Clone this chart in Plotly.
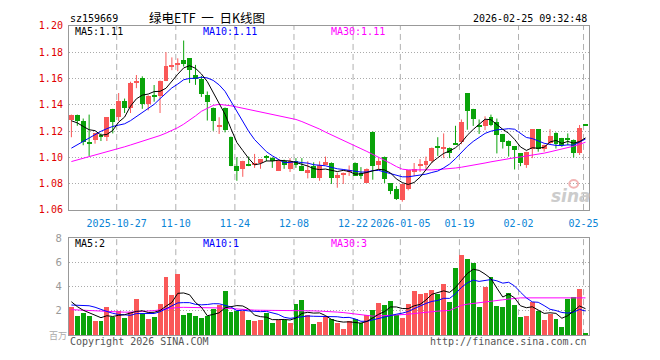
import plotly.graph_objects as go

# ---------------- data ----------------
opens = [1.1288,1.1325,1.1276,1.1113,1.1136,1.1170,1.1158,1.1369,1.1305,1.1428,
         1.1379,1.1565,1.1602,1.1410,1.1470,1.1467,1.1584,1.1690,1.1705,1.1739,
         1.1753,1.1630,1.1594,1.1472,1.1379,1.1235,1.1379,1.1158,1.0938,1.0913,
         1.0947,1.0940,1.0962,1.1001,1.0999,1.0896,1.0970,1.0913,1.0970,1.0938,
         1.0879,1.0938,1.0842,1.0945,1.0962,1.0847,1.0867,1.0889,1.0962,1.0884,
         1.0805,1.1197,1.0945,1.1006,1.0805,1.0761,1.0676,1.0761,1.0889,1.0942,
         1.0945,1.0974,1.1082,1.1072,1.1075,1.1106,1.1116,1.1489,1.1369,1.1241,
         1.1239,1.1305,1.1271,1.1178,1.1129,1.1085,1.1031,1.0945,1.1067,1.1214,
         1.1067,1.1112,1.1190,1.1148,1.1141,1.1136,1.1031,1.1246]
highs = [1.1325,1.1325,1.1295,1.1325,1.1185,1.1182,1.1305,1.1369,1.1489,1.1447,
         1.1575,1.1626,1.1616,1.1472,1.1550,1.1584,1.1800,1.1760,1.1753,1.1888,
         1.1753,1.1703,1.1619,1.1501,1.1379,1.1305,1.1379,1.1158,1.1001,1.0974,
         1.1006,1.1026,1.0987,1.1018,1.1001,1.0982,1.0982,1.0994,1.0994,1.0994,
         1.0970,1.0962,1.0970,1.1006,1.0962,1.0884,1.0884,1.0938,1.0962,1.0926,
         1.0916,1.1197,1.0994,1.1006,1.0805,1.0781,1.0798,1.0903,1.0957,1.0987,
         1.1006,1.1075,1.1153,1.1182,1.1075,1.1240,1.1288,1.1489,1.1369,1.1288,
         1.1312,1.1325,1.1295,1.1178,1.1129,1.1085,1.1031,1.1043,1.1214,1.1214,
         1.1097,1.1214,1.1190,1.1148,1.1182,1.1136,1.1246,1.1246]
lows = [1.1153,1.1240,1.1092,1.1011,1.1104,1.1124,1.1124,1.1182,1.1276,1.1337,
        1.1337,1.1526,1.1369,1.1357,1.1423,1.1337,1.1580,1.1663,1.1655,1.1690,
        1.1565,1.1551,1.1459,1.1280,1.1202,1.1178,1.1190,1.0933,1.0822,1.0852,
        1.0933,1.0920,1.0913,1.0970,1.0920,1.0896,1.0913,1.0889,1.0920,1.0896,
        1.0840,1.0842,1.0822,1.0940,1.0798,1.0769,1.0798,1.0859,1.0859,1.0835,
        1.0805,1.0830,1.0908,1.0805,1.0720,1.0676,1.0663,1.0749,1.0859,1.0889,
        1.0913,1.0957,1.1011,1.0994,1.0994,1.1097,1.1100,1.1210,1.1239,1.1178,
        1.1207,1.1237,1.1030,1.1067,1.1006,1.0908,1.0933,1.0920,1.0994,1.1043,
        1.1043,1.1100,1.1067,1.1080,1.1092,1.0999,1.1018,1.1243]
closes = [1.1325,1.1280,1.1116,1.1110,1.1185,1.1153,1.1305,1.1270,1.1428,1.1374,
          1.1570,1.1582,1.1410,1.1469,1.1467,1.1584,1.1695,1.1700,1.1712,1.1709,
          1.1668,1.1595,1.1484,1.1423,1.1280,1.1240,1.1210,1.0938,1.0896,1.0974,
          1.0943,1.0962,1.0987,1.0999,1.0970,1.0970,1.0945,1.0977,1.0945,1.0896,
          1.0908,1.0842,1.0945,1.0965,1.0842,1.0867,1.0884,1.0908,1.0859,1.0859,
          1.0916,1.0938,1.0974,1.0835,1.0749,1.0683,1.0798,1.0903,1.0913,1.0947,
          1.0974,1.1075,1.1075,1.1078,1.1036,1.1100,1.1271,1.1357,1.1295,1.1237,
          1.1288,1.1251,1.1173,1.1116,1.1085,1.1060,1.0962,1.1043,1.1214,1.1067,
          1.1097,1.1165,1.1104,1.1099,1.1139,1.1031,1.1227,1.1243]
volumes = [2.29,1.55,1.79,1.55,1.15,1.15,2.35,1.49,2.03,1.39,
           1.87,2.99,1.76,1.31,1.49,2.59,4.75,3.33,5.07,1.63,
           1.84,1.57,1.39,1.57,2.16,2.51,3.63,1.87,2.00,2.00,
           1.23,1.15,1.23,1.79,0.99,1.23,1.23,0.99,2.59,2.91,
           1.68,0.91,1.07,1.49,1.33,0.96,0.53,1.17,1.33,0.96,
           1.65,2.05,2.61,2.45,2.85,1.65,1.41,2.53,3.65,3.41,
           3.49,3.73,3.41,4.21,2.77,5.49,6.61,6.29,5.97,2.29,
           3.97,4.77,2.37,2.29,3.49,2.45,1.49,1.57,2.69,1.97,
           1.25,1.73,1.33,0.69,3.01,3.17,3.81,0.21]

ma5 = [1.1278,1.1262,1.1235,1.1210,1.1203,1.1169,1.1174,1.1205,1.1268,1.1306,
       1.1389,1.1445,1.1473,1.1481,1.1500,1.1502,1.1525,1.1583,1.1632,1.1680,
       1.1697,1.1677,1.1634,1.1576,1.1490,1.1404,1.1327,1.1218,1.1113,1.1052,
       1.0992,1.0943,1.0952,1.0973,1.0972,1.0978,1.0974,1.0972,1.0961,1.0947,
       1.0934,1.0914,1.0907,1.0911,1.0900,1.0892,1.0901,1.0893,1.0872,1.0875,
       1.0885,1.0896,1.0909,1.0904,1.0882,1.0836,1.0808,1.0794,1.0809,1.0849,
       1.0907,1.0962,1.0997,1.1030,1.1048,1.1073,1.1112,1.1168,1.1212,1.1252,
       1.1290,1.1286,1.1249,1.1213,1.1183,1.1137,1.1079,1.1053,1.1073,1.1069,
       1.1077,1.1117,1.1129,1.1106,1.1121,1.1108,1.1120,1.1148]
ma10 = [1.1070,1.1095,1.1120,1.1148,1.1175,1.1198,1.1218,1.1235,1.1245,1.1255,
        1.1279,1.1310,1.1339,1.1375,1.1403,1.1446,1.1485,1.1528,1.1557,1.1590,
        1.1600,1.1601,1.1609,1.1604,1.1585,1.1551,1.1502,1.1426,1.1345,1.1271,
        1.1198,1.1135,1.1085,1.1043,1.1012,1.0985,1.0959,1.0962,1.0967,1.0960,
        1.0956,1.0944,1.0940,1.0936,1.0924,1.0913,1.0908,1.0900,1.0892,1.0888,
        1.0889,1.0899,1.0901,1.0888,1.0879,1.0861,1.0852,1.0852,1.0857,1.0866,
        1.0872,1.0885,1.0896,1.0920,1.0949,1.0990,1.1037,1.1083,1.1121,1.1150,
        1.1182,1.1199,1.1209,1.1213,1.1218,1.1214,1.1183,1.1151,1.1143,1.1126,
        1.1107,1.1098,1.1091,1.1090,1.1095,1.1093,1.1119,1.1139]
ma30 = [1.0968,1.0980,1.0992,1.1004,1.1016,1.1028,1.1040,1.1053,1.1066,1.1080,
        1.1094,1.1108,1.1122,1.1136,1.1150,1.1166,1.1184,1.1204,1.1226,1.1252,
        1.1282,1.1315,1.1350,1.1375,1.1395,1.1403,1.1400,1.1392,1.1383,1.1374,
        1.1365,1.1356,1.1347,1.1338,1.1329,1.1320,1.1310,1.1300,1.1288,1.1272,
        1.1254,1.1236,1.1215,1.1192,1.1172,1.1152,1.1130,1.1108,1.1087,1.1066,
        1.1045,1.1024,1.1002,1.0980,1.0955,1.0930,1.0910,1.0905,1.0904,1.0904,
        1.0904,1.0905,1.0907,1.0910,1.0914,1.0919,1.0925,1.0932,1.0940,1.0948,
        1.0957,1.0966,1.0975,1.0983,1.0990,1.0997,1.1003,1.1009,1.1016,1.1024,
        1.1032,1.1042,1.1052,1.1062,1.1073,1.1085,1.1099,1.1115]

vma5 = [2.75,2.35,2.05,1.85,1.666,1.438,1.598,1.538,1.634,1.682,
        1.826,1.954,2.008,1.864,1.884,2.028,2.38,2.694,3.446,3.474,
        3.324,2.688,2.30,1.60,1.706,1.84,2.252,2.348,2.434,2.402,
        2.146,1.65,1.522,1.48,1.278,1.278,1.294,1.246,1.406,1.79,
        1.88,1.816,1.832,1.612,1.296,1.152,1.076,1.096,1.064,0.99,
        1.128,1.432,1.72,1.944,2.322,2.322,2.194,2.178,2.418,2.53,
        2.898,3.362,3.538,3.65,3.522,3.922,4.498,5.074,5.426,5.33,
        5.026,4.658,3.874,3.138,3.378,3.074,2.418,2.258,2.338,2.034,
        1.794,1.842,1.794,1.394,1.602,1.986,2.402,2.178]
vma10 = [2.48,2.48,2.47,2.42,2.30,2.10,1.95,1.80,1.70,1.674,
         1.632,1.776,1.773,1.749,1.783,1.927,2.167,2.351,2.655,2.679,
         2.676,2.534,2.497,2.523,2.59,2.582,2.47,2.324,2.017,2.054,
         1.993,1.951,1.935,1.957,1.84,1.712,1.472,1.384,1.443,1.534,
         1.579,1.555,1.539,1.509,1.543,1.516,1.446,1.464,1.338,1.143,
         1.14,1.254,1.408,1.504,1.656,1.725,1.813,1.949,2.181,2.426,
         2.61,2.778,2.858,3.034,3.026,3.41,3.93,4.306,4.538,4.426,
         4.474,4.578,4.474,4.282,4.354,4.05,3.538,3.066,2.738,2.706,
         2.434,2.13,2.026,1.866,1.818,1.89,2.122,1.986]
vma30 = [2.10,2.07,2.04,2.01,1.98,1.96,1.94,1.92,1.90,1.89,
         1.90,1.92,1.95,1.98,2.02,2.08,2.15,2.22,2.28,2.29,
         2.29,2.29,2.28,2.27,2.26,2.24,2.22,2.18,2.12,2.08,
         2.07,2.06,2.05,2.05,2.04,2.04,2.03,2.03,2.02,2.02,
         2.01,2.00,1.98,1.97,1.94,1.90,1.86,1.81,1.76,1.68,
         1.60,1.57,1.58,1.60,1.63,1.65,1.67,1.72,1.78,1.84,
         1.90,1.95,1.98,2.01,2.03,2.25,2.45,2.55,2.62,2.66,
         2.72,2.80,2.86,2.91,2.97,3.03,3.07,3.07,3.07,3.07,
         3.07,3.07,3.08,3.09,3.11,3.12,3.11,3.07]

tick_idx = [8, 18, 28, 38, 48, 56, 66, 76, 87]
tick_text = ["2025-10-27", "11-10", "11-24", "12-08", "12-22",
             "2026-01-05", "01-19", "02-02", "02-25"]
price_ticks = [1.06, 1.08, 1.10, 1.12, 1.14, 1.16, 1.18, 1.20]
vol_ticks = [2, 4, 6, 8]

# ---------------- styling ----------------
RED = "#fa5858"
GREEN = "#0aa30a"
W, H = 660, 360
MONO = "DejaVu Sans Mono"

def px_x(p):
    return p / W

def px_y(p):
    return 1 - p / H

n = len(closes)
idx = list(range(n))
up = [c >= o for o, c in zip(opens, closes)]
cols = [RED if u else GREEN for u in up]
body_base = [min(o, c) for o, c in zip(opens, closes)]
body_h = [max(abs(c - o), 0.0006) for o, c in zip(opens, closes)]

fig = go.Figure()

# wicks
for flag, col in ((True, RED), (False, GREEN)):
    wx, wy = [], []
    for i in idx:
        if up[i] == flag:
            wx += [i, i, None]
            wy += [lows[i], highs[i], None]
    fig.add_trace(go.Scatter(x=wx, y=wy, mode="lines", line=dict(color=col, width=1),
                             xaxis="x", yaxis="y", hoverinfo="skip"))

# bodies
fig.add_trace(go.Bar(x=idx, y=body_h, base=body_base, width=5/6,
                     marker=dict(color=cols, line=dict(width=0)), xaxis="x", yaxis="y"))

# price MAs
for arr, col in ((ma30, "#ff00ff"), (ma10, "#0000ff"), (ma5, "#000000")):
    fig.add_trace(go.Scatter(x=idx, y=arr, mode="lines", line=dict(color=col, width=1),
                             xaxis="x", yaxis="y"))

# volume
fig.add_trace(go.Bar(x=idx, y=volumes, width=5/6,
                     marker=dict(color=cols, line=dict(width=0)), xaxis="x2", yaxis="y2"))
for arr, col in ((vma30, "#ff00ff"), (vma10, "#0000ff"), (vma5, "#000000")):
    fig.add_trace(go.Scatter(x=idx, y=arr, mode="lines", line=dict(color=col, width=1),
                             xaxis="x2", yaxis="y2"))

xr = [-2.5 / 6, n - 2.5 / 6]
xdom = [px_x(70), px_x(598)]
tick_pos = [t - 1 / 3 for t in tick_idx]
xcommon = dict(range=xr, domain=xdom, showline=True, mirror=True, linecolor="#999999",
               linewidth=1, showgrid=False, zeroline=False, tickmode="array",
               tickvals=tick_pos, ticks="", fixedrange=True)

fig.update_layout(
    width=W, height=H, margin=dict(l=0, r=0, t=0, b=0),
    paper_bgcolor="white", plot_bgcolor="white", showlegend=False, bargap=0,
    xaxis=dict(**xcommon, anchor="y", ticktext=tick_text, ticklabelstandoff=4,
               tickfont=dict(family=MONO, size=10, color="#0a84d6")),
    xaxis2=dict(**xcommon, anchor="y2", matches="x", showticklabels=False,
                ticktext=tick_text),
    yaxis=dict(domain=[px_y(211), px_y(20.5)], range=[1.06, 1.20], tickmode="array",
               tickvals=price_ticks, ticktext=[f"{v:.2f}" for v in price_ticks],
               tickfont=dict(family=MONO, size=10, color="#e00000"),
               showline=True, mirror=True, linecolor="#999999", linewidth=1,
               showgrid=True, gridcolor="#aaaaaa", griddash="1px,2px", zeroline=False,
               ticks="", ticklabelstandoff=3, anchor="x", fixedrange=True),
    yaxis2=dict(domain=[px_y(340.5), px_y(240)], range=[0, 8], tickmode="array",
                tickvals=vol_ticks, ticktext=[str(v) for v in vol_ticks],
                tickfont=dict(family="DejaVu Sans", size=10, color="#999999"),
                showline=True, mirror=True, linecolor="#999999", linewidth=1,
                showgrid=True, gridcolor="#aaaaaa", griddash="1px,2px", zeroline=False,
                ticks="", ticklabelstandoff=4, anchor="x2", fixedrange=True),
)

# vertical dashed date lines in both panels
for xa, ya in (("x", "y domain"), ("x2", "y2 domain")):
    for t in tick_pos:
        fig.add_shape(type="line", xref=xa, yref=ya, x0=t, x1=t, y0=0, y1=1,
                      line=dict(color="#b0b0b0", width=1, dash="6px,4px"), layer="below")

def txt(x, y, s, color="#000000", size=10, family=MONO, xanchor="left", **kw):
    fig.add_annotation(x=px_x(x), y=px_y(y), xref="paper", yref="paper", text=s,
                       showarrow=False, xanchor=xanchor, yanchor="middle",
                       font=dict(family=family, size=size, color=color), **kw)

# header
txt(69, 13, "sz159669")
txt(210, 11.5, "绿电ETF&nbsp;&nbsp;一&nbsp;&nbsp;日K线图", size=12.5,
    family="Noto Sans CJK SC", xanchor="center")
txt(598, 13, "2026-02-25 09:32:48", xanchor="right")

# price legend
txt(74, 26, f"MA5:{ma5[-1]:.2f}")
txt(204, 26, f"MA10:{ma10[-1]:.2f}", color="#0000ff")
txt(334, 26, f"MA30:{ma30[-1]:.2f}", color="#ff00ff")

# volume legend (values truncated to integers as in the reference)
txt(74, 246, f"MA5:{int(vma5[-1])}")
txt(204, 246, f"MA10:{int(vma10[-1])}", color="#0000ff")
txt(334, 246, f"MA30:{int(vma30[-1])}", color="#ff00ff")

# footer
txt(48, 341, "百万", color="#aaaaaa", size=9, family="Noto Sans CJK SC")
txt(69, 347, "Copyright 2026 SINA.COM", color="#555555")
txt(598, 347, "http://finance.sina.com.cn", color="#555555", xanchor="right")

# watermark (logo circle + word)
fig.add_shape(type="circle", xref="paper", yref="paper",
              x0=px_x(578), x1=px_x(587), y0=px_y(188), y1=px_y(180),
              line=dict(color="#f2b4b4", width=2), fillcolor="rgba(0,0,0,0)")
txt(580, 197, "<b><i>sina</i></b>", color="#cccccc", size=17, family="DejaVu Sans",
    xanchor="center")

fig.write_html("out.html")
